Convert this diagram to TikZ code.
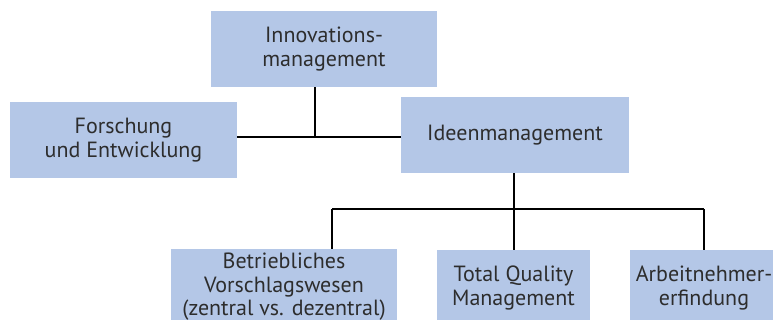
\documentclass[tikz,border=0pt]{standalone}
\usepackage{fontspec}
\setmainfont{PT Sans}
\definecolor{boxblue}{RGB}{180,199,231}
\definecolor{txtgray}{RGB}{45,45,45}

\begin{document}
\begin{tikzpicture}[x=1pt,y=-1pt]
\tikzstyle{box}=[rectangle,fill=boxblue,text=txtgray,align=center,inner sep=0pt,minimum height=76pt,font=\fontsize{22}{23.5}\selectfont]
\tikzstyle{conn}=[line width=1.5pt]
\useasboundingbox (0,0) rectangle (773,320);
\node[box,minimum width=226pt] (innov) at (324,49) {Innovations-\\management};
\node[box,minimum width=227pt] (forsch) at (123.5,140) {Forschung\\und Entwicklung};
\node[box,minimum width=228pt] (ideen) at (515,135) {Ideenmanagement};
\node[box,minimum width=226pt] (bvw) at (284,287) {Betriebliches\\Vorschlagswesen\\(zentral vs. dezentral)};
\node[box,minimum width=153pt] (tqm) at (513.5,288) {Total Quality\\Management};
\node[box,minimum width=148pt] (arb) at (704,288) {Arbeitnehmer-\\erfindung};
\coordinate (j1) at (315,137);
\coordinate (j2) at (514,209);
\coordinate (d1) at (332,209);
\coordinate (d3) at (704,209);
\draw[conn] (innov.south -| j1) -- (j1);
\draw[conn] (forsch.east |- j1) -- (ideen.west |- j1);
\draw[conn] (ideen.south -| j2) -- (j2);
\draw[conn] (d1) -- (d3);
\draw[conn] (d1) -- (bvw.north -| d1);
\draw[conn] (j2) -- (tqm.north -| j2);
\draw[conn] (d3) -- (arb.north -| d3);
\end{tikzpicture}
\end{document}
